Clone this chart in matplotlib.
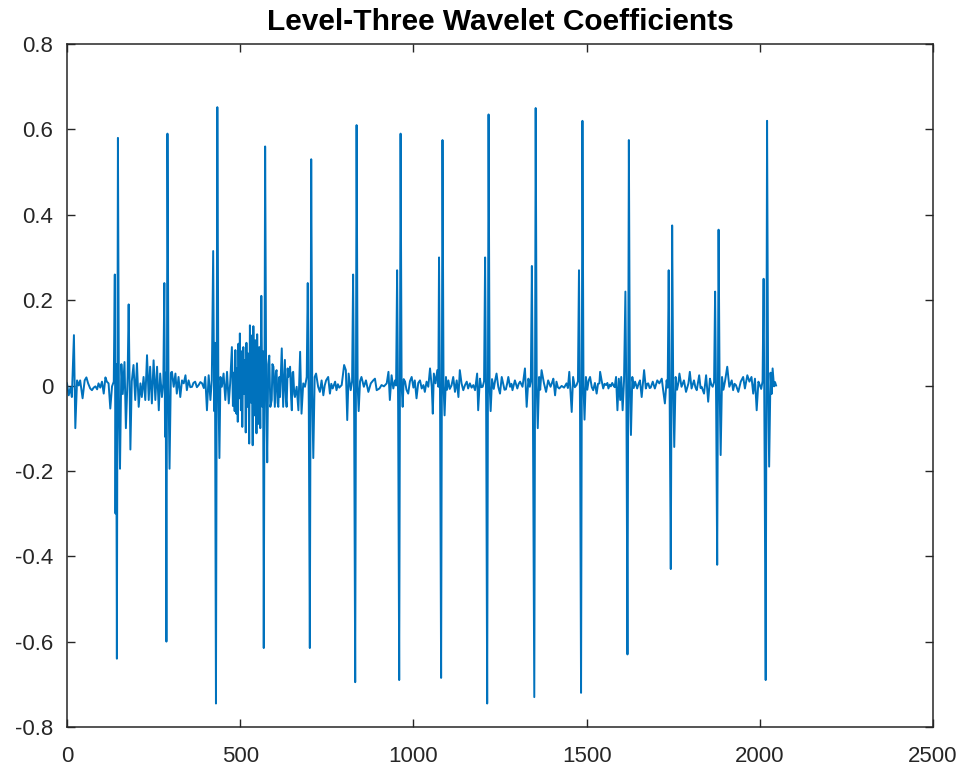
import matplotlib
matplotlib.use("Agg")
import matplotlib.pyplot as plt
from matplotlib.ticker import FuncFormatter

plt.rcParams['font.family'] = ['Liberation Sans', 'DejaVu Sans']

title = "Level-Three Wavelet Coefficients"
x_ticks = [0, 500, 1000, 1500, 2000, 2500]
y_ticks = [-0.8, -0.6, -0.4, -0.2, 0, 0.2, 0.4, 0.6, 0.8]

# sample index and coefficient value
idx = [
    0, 5, 10, 14, 20, 24, 29, 34, 38, 45, 51, 56, 61, 67, 72, 77, 82, 87, 91, 96, 101, 106, 111, 115, 120, 125, 130, 135,
    138, 140, 142, 144, 147, 150, 153, 157, 161, 166, 170, 175, 178, 183, 187,
    192, 197, 202, 207, 212, 216, 221, 226, 231, 236, 240, 245, 250, 255, 260, 265, 269, 274, 278,
    281, 283, 285, 287, 290, 293, 296, 300,
    303, 308, 313, 317, 322, 327, 332, 337, 342, 346, 351, 356, 361, 365, 370, 375, 380, 385, 390, 395, 399, 404, 409, 414, 418,
    422, 425, 427, 430, 434, 437, 440, 443,
    447, 452, 457, 462, 467, 471, 476, 479, 481, 484, 486, 489, 491, 493, 495, 497, 499, 502, 504, 506, 509, 511, 514, 516,
    518, 521, 523, 526, 528, 531, 533, 536, 538, 541, 544, 547, 549, 552, 555, 558,
    561, 564, 566, 568, 572, 575, 578, 581,
    584, 587, 591, 593, 596, 600, 603, 605, 608, 610, 613, 615, 620, 624, 627, 629, 632, 634, 637, 639, 644, 647, 649, 651,
    653, 656, 658, 663, 668, 673, 677, 682, 687, 692,
    695, 698, 701, 705, 708, 711, 715,
    719, 725, 730, 735, 740, 744, 748, 754, 759, 763, 767, 774, 778, 782, 786, 793, 800, 805, 809, 813, 819, 823,
    826, 829, 832, 836, 839, 842, 846,
    850, 857, 863, 870, 877, 884, 889, 894, 902, 908, 915, 923, 928, 932, 937, 942, 947, 950,
    953, 956, 959, 963, 966, 969, 972,
    976, 980, 985, 990, 995, 1000, 1004, 1009, 1014, 1019, 1024, 1029, 1033, 1038, 1043, 1048, 1053, 1056, 1059, 1064, 1069, 1072,
    1074, 1077, 1080, 1084, 1087, 1090, 1094,
    1097, 1101, 1105, 1110, 1115, 1120, 1125, 1130, 1134, 1139, 1144, 1149, 1154, 1158, 1163, 1168, 1173, 1178, 1184, 1187,
    1192, 1196, 1200, 1204,
    1207, 1210, 1213, 1217, 1220, 1223, 1227,
    1232, 1236, 1240, 1245, 1250, 1255, 1260, 1263, 1267, 1271, 1274, 1279, 1283, 1286, 1293, 1300, 1304, 1308, 1315, 1322,
    1327, 1332, 1336, 1339,
    1342, 1345, 1349, 1353, 1356, 1359, 1363,
    1366, 1370, 1377, 1383, 1389, 1396, 1400, 1404, 1409, 1413, 1417, 1421, 1428, 1435, 1442, 1446, 1450, 1457, 1461, 1466,
    1471, 1475,
    1478, 1481, 1484, 1488, 1491, 1494, 1498,
    1502, 1506, 1510, 1515, 1519, 1524, 1529, 1533, 1537, 1539, 1544, 1548, 1552, 1556, 1560, 1563, 1567, 1570, 1574, 1577,
    1581, 1585, 1589, 1593, 1597, 1600, 1604, 1608,
    1612, 1615, 1618, 1622, 1625, 1628, 1632,
    1636, 1640, 1646, 1650, 1654, 1659, 1666, 1671, 1675, 1678, 1682, 1685, 1691, 1697, 1701, 1704, 1710, 1717, 1721, 1726,
    1731, 1734,
    1737, 1740, 1743, 1747, 1750, 1753, 1757,
    1761, 1765, 1768, 1774, 1781, 1787, 1794, 1798, 1803, 1810, 1814, 1818, 1825, 1829, 1832, 1839, 1845, 1851, 1856, 1860,
    1864, 1868,
    1871, 1874, 1877, 1881, 1884, 1887, 1891,
    1895, 1900, 1906, 1912, 1919, 1923, 1927, 1931, 1938, 1945, 1952, 1957, 1964, 1970, 1976, 1981, 1986, 1991, 1996, 2000,
    2004, 2008,
    2011, 2014, 2017, 2021, 2024, 2027, 2031, 2034, 2037, 2041, 2044, 2047,
]

coef = [
    0.005, -0.023, -0.005, -0.027, 0.118, -0.10, 0.012, 0.0, 0.012, -0.03, 0.012, 0.019, 0.005, -0.007, -0.011, -0.005,
    -0.002, -0.009, 0.005, -0.005, 0.009, -0.019, 0.019, 0.009, 0.005, -0.054, -0.002, 0.009,
    0.26, -0.30, 0.05, -0.64, 0.58, -0.05, -0.195, 0.05, -0.02, 0.055, -0.10, 0.02, 0.19, -0.15, 0.01,
    0.048, -0.034, 0.052, -0.05, 0.005, -0.027, 0.02, -0.034, 0.071, -0.034, 0.044, -0.042, 0.059, -0.034, 0.044, -0.058,
    0.028, -0.027, 0.005,
    0.24, -0.12, 0.03, -0.60, 0.59, 0.0, -0.195, 0.03,
    0.032, -0.003, 0.028, -0.019, 0.02, -0.027, 0.012, 0.005, 0.024, -0.011, 0.012, -0.004, -0.003, 0.006, 0.009, -0.004,
    0.001, 0.008, 0.005, -0.006, 0.02, -0.058, 0.024, -0.034, 0.012,
    0.315, -0.06, 0.1, -0.745, 0.652, 0.0, -0.17, 0.02,
    -0.003, 0.028, -0.034, 0.032, -0.042, 0.005, 0.09, -0.048, 0.03, -0.06, 0.083, -0.066, 0.04, -0.085, 0.098, -0.03,
    0.122, -0.058, 0.08, -0.097, 0.09, -0.02, 0.06, -0.11,
    0.10, -0.05, 0.075, -0.136, 0.141, -0.04, 0.117, -0.14, 0.139, -0.07, 0.106, -0.112, 0.12, -0.09, 0.09, -0.10,
    0.21, -0.05, 0.08, -0.615, 0.56, 0.0, -0.18, 0.05,
    0.07, -0.05, -0.034, 0.05, 0.044, -0.05, 0.03, 0.036, -0.04, -0.05, 0.02, -0.027, 0.087, -0.05, 0.02, 0.06, -0.03,
    -0.05, 0.04, 0.02, 0.044, -0.03, -0.058, 0.03,
    0.032, -0.02, -0.027, -0.003, -0.058, 0.079, -0.066, 0.005, -0.003, 0.02,
    0.24, -0.05, -0.615, 0.53, -0.02, -0.17, 0.02,
    0.028, -0.003, -0.015, 0.012, -0.023, 0.0, 0.012, 0.02, -0.019, 0.004, -0.007, 0.009, -0.011, 0.003, -0.005, 0.001,
    0.048, 0.036, -0.081, 0.028, -0.011, 0.01,
    0.26, -0.08, -0.695, 0.61, 0.0, -0.06, 0.01,
    0.02, -0.003, 0.012, -0.015, 0.005, 0.012, 0.016, -0.011, -0.007, 0.001, -0.002, 0.005, 0.032, -0.034, 0.024, -0.007,
    0.012, 0.0,
    0.27, -0.06, -0.69, 0.59, 0.0, -0.05, 0.015,
    0.009, -0.01, -0.019, 0.01, 0.02, -0.005, 0.012, -0.03, 0.006, 0.012, -0.007, 0.001, -0.015, 0.009, -0.003, 0.04,
    -0.003, -0.066, 0.028, 0.005, 0.036, -0.003,
    0.30, -0.05, -0.685, 0.575, 0.0, -0.07, 0.02,
    -0.01, 0.012, -0.008, 0.0, 0.02, -0.015, 0.012, -0.027, 0.036, 0.005, -0.011, 0.001, 0.009, -0.007, 0.005, -0.005,
    0.001, -0.011, 0.028, -0.058,
    0.016, -0.004, -0.003, 0.01,
    0.30, -0.05, -0.745, 0.635, 0.0, -0.06, 0.015,
    -0.008, 0.012, 0.028, -0.003, -0.019, 0.02, 0.001, -0.01, -0.009, 0.006, 0.02, -0.003, 0.004, -0.011, 0.012, -0.007,
    0.004, 0.009, -0.003, 0.04,
    -0.05, 0.016, -0.003, 0.01,
    0.28, -0.06, -0.73, 0.65, 0.0, -0.10, 0.02,
    -0.01, 0.036, 0.005, -0.015, 0.012, -0.003, 0.006, 0.016, -0.023, 0.009, -0.004, -0.007, -0.001, -0.005, 0.005, -0.006,
    0.032, -0.062, 0.02, -0.004,
    0.001, 0.01,
    0.27, -0.06, -0.72, 0.62, 0.0, -0.08, 0.02,
    -0.01, 0.012, 0.02, -0.004, -0.011, 0.006, -0.019, 0.004, 0.005, 0.032, 0.009, -0.007, 0.004, 0.001, 0.006, -0.007,
    0.002, -0.002, 0.006, 0.001,
    -0.004, 0.02, -0.058, 0.016, -0.034, 0.02, -0.058, 0.01,
    0.22, -0.05, -0.63, 0.575, 0.0, -0.116, 0.02,
    -0.006, 0.009, -0.007, 0.004, 0.012, -0.027, 0.036, -0.007, 0.004, 0.005, -0.006, -0.005, 0.009, -0.007, 0.004, 0.012,
    0.005, 0.016, -0.011, -0.042,
    0.012, -0.005,
    0.27, -0.06, -0.43, 0.375, 0.0, -0.144, 0.02,
    -0.01, 0.006, 0.028, -0.003, 0.012, -0.015, 0.005, 0.032, -0.007, 0.012, -0.004, -0.011, 0.024, -0.006, -0.003, -0.019,
    0.024, -0.038, 0.016, 0.002,
    -0.003, 0.008,
    0.22, -0.05, -0.42, 0.365, 0.0, -0.163, 0.02,
    -0.01, 0.012, 0.044, -0.003, 0.012, -0.011, 0.004, 0.001, -0.015, 0.009, 0.02, -0.007, 0.024, 0.009, 0.02, -0.019,
    0.016, -0.058, 0.009, 0.001,
    -0.008, 0.01,
    0.25, -0.19, -0.69, 0.62, 0.0, -0.19, 0.03, -0.02, 0.04, -0.002, 0.008, 0.0,
]

fig = plt.figure(figsize=(9.65, 7.72), dpi=100)
ax = fig.add_axes([67 / 965, 1 - 727 / 772, 866 / 965, 683 / 772])
ax.plot(idx, coef, color='#0072BD', linewidth=1.4)

ax.set_xlim(0, 2500)
ax.set_ylim(-0.8, 0.8)
ax.set_xticks(x_ticks)
ax.set_yticks(y_ticks)

def fmt(v, pos):
    if abs(v) < 1e-9:
        return "0"
    return ("%g" % v).replace("\u2212", "-")

ax.xaxis.set_major_formatter(FuncFormatter(fmt))
ax.yaxis.set_major_formatter(FuncFormatter(fmt))

edge = '#262626'
for sp in ax.spines.values():
    sp.set_color(edge)
    sp.set_linewidth(1.1)
ax.tick_params(axis='both', which='major', direction='in', length=6, width=1.0,
               colors=edge, labelsize=16, top=True, right=True)
ax.tick_params(axis='x', pad=14)
ax.tick_params(axis='y', pad=10)
for lab in ax.get_xticklabels() + ax.get_yticklabels():
    lab.set_color(edge)

ax.set_title(title, fontsize=21.5, fontweight='bold', color='black', pad=10)

fig.savefig('out.png', dpi=100)
